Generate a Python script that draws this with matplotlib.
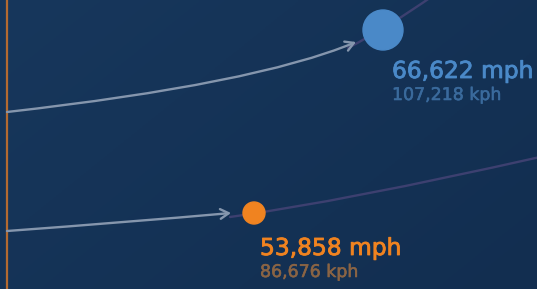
import matplotlib.pyplot as plt
import matplotlib.patheffects as pe
import numpy as np
from matplotlib.patches import Circle, FancyArrowPatch
from matplotlib.path import Path

# data
planets = ['Venus', 'Earth']
speed_mph = [66622, 53858]
speed_kph = [107218, 86676]
main_colors = ['#4a89c8', '#f08320']
sub_colors = ['#3a6a9c', '#8a6444']

# layout (pixel space)
centers = [(383, 30), (254, 213)]
radii = [20, 11]
label_xy = [(392, 78), (260, 255)]
arrow_paths = [[(7, 112), (255, 84), (356, 42)],
               [(7, 231), (130, 222), (231, 213)]]
orbit_paths = [[(348, 48), (390, 26), (434, -5)],
               [(230, 217), (345, 201), (540, 157)]]

fig = plt.figure(figsize=(5.37, 2.89), dpi=100)
ax = fig.add_axes([0, 0, 1, 1])
ax.set_xlim(0, 537)
ax.set_ylim(289, 0)
ax.axis('off')

# background gradient, lighter top-left
gx, gy = np.meshgrid(np.linspace(0, 1, 200), np.linspace(0, 1, 120))
g = (gx * 0.6 + gy * 0.4)
top = np.array([0x17, 0x37, 0x5c]) / 255
bot = np.array([0x12, 0x2e, 0x50]) / 255
img = top[None, None, :] * (1 - g[..., None]) + bot[None, None, :] * g[..., None]
ax.imshow(img, extent=[0, 537, 289, 0], aspect='auto', zorder=0)

ax.plot([6.5, 6.5], [0, 289], color='#b46a30', lw=1.6, zorder=2)

for pts in orbit_paths:
    path = Path(pts, [Path.MOVETO, Path.CURVE3, Path.CURVE3])
    ax.add_patch(FancyArrowPatch(path=path, arrowstyle='-', color='#3d4070',
                                 lw=1.7, zorder=1))

for pts in arrow_paths:
    path = Path(pts, [Path.MOVETO, Path.CURVE3, Path.CURVE3])
    ax.add_patch(FancyArrowPatch(path=path, arrowstyle='->,head_length=6,head_width=3.5',
                                 color='#8596ad', lw=1.7, zorder=3))

for i in range(len(planets)):
    ax.add_patch(Circle(centers[i], radii[i], color=main_colors[i], zorder=4))
    x, y = label_xy[i]
    ax.text(x, y, f'{speed_mph[i]:,} mph', color=main_colors[i], fontsize=16.8,
            family='DejaVu Sans', va='baseline', ha='left',
            path_effects=[pe.withStroke(linewidth=0.6, foreground=main_colors[i])])
    ax.text(x, y + 22, f'{speed_kph[i]:,} kph', color=sub_colors[i], fontsize=12.5,
            family='DejaVu Sans', va='baseline', ha='left',
            path_effects=[pe.withStroke(linewidth=0.4, foreground=sub_colors[i])])

fig.savefig('out.png', dpi=100)
